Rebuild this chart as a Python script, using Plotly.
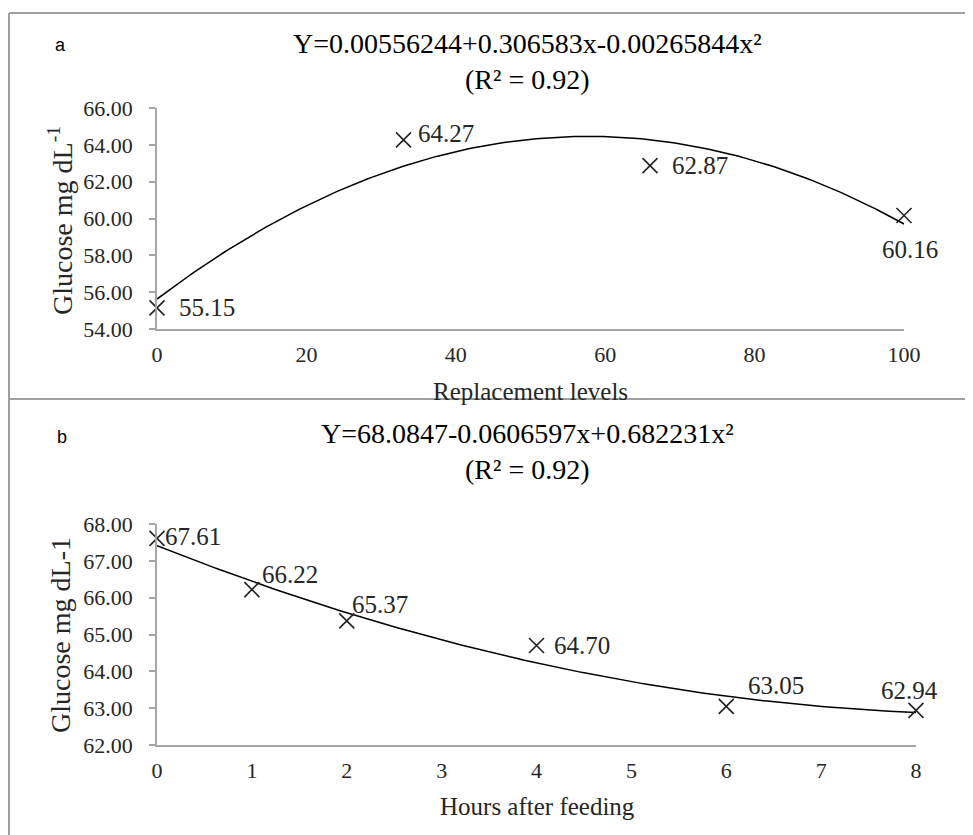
import numpy as np
import plotly.graph_objects as go

# ---------------- data ----------------
levels = [0, 33, 66, 100]
glucose_a = [55.15, 64.27, 62.87, 60.16]

hours = [0, 1, 2, 4, 6, 8]
glucose_b = [67.61, 66.22, 65.37, 64.70, 63.05, 62.94]

title_a = "Y=0.00556244+0.306583x-0.00265844x²<br>(R² = 0.92)"
title_b = "Y=68.0847-0.0606597x+0.682231x²<br>(R² = 0.92)"
ytitle_a = "Glucose mg dL<sup>-1</sup>"
ytitle_b = "Glucose mg dL-1"
xtitle_a = "Replacement levels"
xtitle_b = "Hours after feeding"
yticks_a = [54, 56, 58, 60, 62, 64, 66]
yticks_b = [62, 63, 64, 65, 66, 67, 68]
xticks_a = [0, 20, 40, 60, 80, 100]
xticks_b = [0, 1, 2, 3, 4, 5, 6, 7, 8]

# label placement (style only)
lab_a = [("left", 20, 0), ("left", 12, 6), ("left", 20, 0), ("center", 6, -34)]
lab_b = [("left", 6, 2), ("left", 8, 15), ("left", 3, 16), ("left", 15, 0), ("left", 20, 21), ("center", -7, 20)]

W, H = 973, 835
OFF = 8  # page body margin
SERIF = "Liberation Serif"
AX = "#a6a6a6"
TXT = "#262626"

def px(x):
    return (x - OFF) / W

def py(y):
    return 1 - (y - OFF) / H

fig = go.Figure()

def add_panel(xs, ys, xa, ya):
    c = np.polyfit(xs, ys, 2)
    xf = np.linspace(min(xs), max(xs), 200)
    fig.add_trace(go.Scatter(x=xf, y=np.polyval(c, xf), mode="lines", cliponaxis=False,
                             line=dict(color="black", width=1.5),
                             xaxis=xa, yaxis=ya, hoverinfo="skip", showlegend=False))
    fig.add_trace(go.Scatter(x=xs, y=ys, mode="markers", cliponaxis=False,
                             marker=dict(symbol="x-thin", size=15,
                                         line=dict(color="#222222", width=1.6)),
                             xaxis=xa, yaxis=ya, showlegend=False))

add_panel(levels, glucose_a, "x", "y")
add_panel(hours, glucose_b, "x2", "y2")

tickfont = dict(family=SERIF, size=22, color=TXT)
common_x = dict(showline=True, linecolor=AX, linewidth=1.5, ticks="", showgrid=False,
                zeroline=False, tickfont=tickfont, ticklabelstandoff=5, automargin=False)
common_y = dict(showline=True, linecolor=AX, linewidth=1.5, ticks="outside", ticklen=6,
                tickcolor=AX, tickwidth=1.5, showgrid=False, zeroline=False,
                tickfont=tickfont, ticklabelstandoff=12, tickformat=".2f", automargin=False)

fig.update_layout(
    width=W, height=H, autosize=False,
    margin=dict(l=0, r=0, t=0, b=0, pad=0, autoexpand=False),
    paper_bgcolor="white", plot_bgcolor="white", showlegend=False,
    xaxis=dict(domain=[px(157), px(904)], range=[0, 100], tickvals=xticks_a,
               anchor="y", **common_x),
    yaxis=dict(domain=[py(329), py(108)], range=[54, 66], tickvals=yticks_a,
               anchor="x", **common_y),
    xaxis2=dict(domain=[px(157), px(916)], range=[0, 8], tickvals=xticks_b,
                anchor="y2", **common_x),
    yaxis2=dict(domain=[py(745), py(524)], range=[62, 68], tickvals=yticks_b,
                anchor="x2", **common_y),
)

ann = []
def pann(text, x, y, size, family=SERIF, color="black", angle=0):
    ann.append(dict(text=text, x=px(x), y=py(y), xref="paper", yref="paper",
                    showarrow=False, xanchor="center", yanchor="middle", textangle=angle,
                    font=dict(family=family, size=size, color=color)))

# titles
pann(title_a, 527, 61, 28)
pann(title_b, 527, 451, 28)
# panel letters
pann("a", 60, 45, 18, family="Liberation Sans")
pann("b", 62, 437, 18, family="Liberation Sans")
# axis titles
pann(ytitle_a, 60, 221, 28, color=TXT, angle=-90)
pann(ytitle_b, 60, 635, 28, color=TXT, angle=-90)
pann(xtitle_a, 530, 391, 25, color=TXT)
pann(xtitle_b, 537, 806, 25, color=TXT)

# data labels
for (xv, yv, (anc, dx, dy)) in zip(levels, glucose_a, lab_a):
    ann.append(dict(text=f"{yv:.2f}", x=xv, y=yv, xref="x", yref="y", showarrow=False,
                    xanchor=anc, yanchor="middle", xshift=dx, yshift=dy,
                    font=dict(family=SERIF, size=25, color=TXT)))
for (xv, yv, (anc, dx, dy)) in zip(hours, glucose_b, lab_b):
    ann.append(dict(text=f"{yv:.2f}", x=xv, y=yv, xref="x2", yref="y2", showarrow=False,
                    xanchor=anc, yanchor="middle", xshift=dx, yshift=dy,
                    font=dict(family=SERIF, size=25, color=TXT)))
fig.update_layout(annotations=ann)

# panel frames
BORDER = "#a0a0a0"
LEFT = 1.0 / W
fig.add_shape(type="line", xref="paper", yref="paper", x0=LEFT, x1=1.0, y0=py(13), y1=py(13),
              line=dict(color=BORDER, width=2))
fig.add_shape(type="line", xref="paper", yref="paper", x0=LEFT, x1=1.0, y0=py(399), y1=py(399),
              line=dict(color=BORDER, width=2))
fig.add_shape(type="line", xref="paper", yref="paper", x0=LEFT, x1=LEFT, y0=py(13), y1=0,
              line=dict(color=BORDER, width=2))

fig.write_html("out.html")
